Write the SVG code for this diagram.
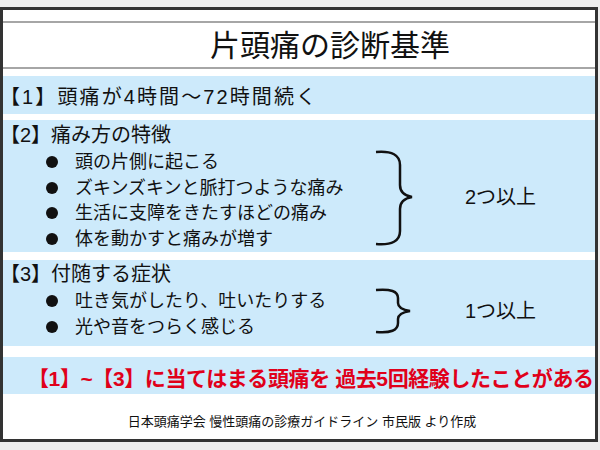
<svg xmlns="http://www.w3.org/2000/svg" width="600" height="450" viewBox="0 0 600 450">
<style>
text{font-family:"Liberation Sans","Noto Sans CJK JP",sans-serif;fill:#111}
.h{font-size:20px}
.b{font-size:18px}
.band{fill:#cdeafb}
.dot{fill:#111}
.brace{fill:none;stroke:#111;stroke-width:2.5}
</style>
<rect width="600" height="450" fill="#eeeeee"/>
<rect x="1.5" y="8.5" width="595" height="432" fill="#fff" stroke="#333" stroke-width="3"/>
<g id="title">
<line x1="3" y1="22" x2="595" y2="22" stroke="#888" stroke-width="1.5"/>
<line x1="3" y1="68" x2="595" y2="68" stroke="#888" stroke-width="1.5"/>
<text x="330" y="56" text-anchor="middle" font-size="30">片頭痛の診断基準</text>
</g>
<g id="s1">
<rect class="band" x="3" y="76" width="592" height="38"/>
<text class="h" x="0" y="104" textLength="316">【1】頭痛が4時間～72時間続く</text>
</g>
<g id="s2">
<rect class="band" x="3" y="120" width="592" height="132"/>
<text class="h" x="0" y="142">【2】痛み方の特徴</text>
<circle class="dot" cx="52" cy="162" r="6"/><text class="b" x="75" y="168">頭の片側に起こる</text>
<circle class="dot" cx="52" cy="188" r="6"/><text class="b" x="75" y="194">ズキンズキンと脈打つような痛み</text>
<circle class="dot" cx="52" cy="213" r="6"/><text class="b" x="75" y="219">生活に支障をきたすほどの痛み</text>
<circle class="dot" cx="52" cy="239" r="6"/><text class="b" x="75" y="245">体を動かすと痛みが増す</text>
<path class="brace" d="M376,152 Q400,150 400,165 L400,185 Q400,195 412,197 Q400,199 400,209 L400,231 Q400,246 376,244"/>
<text class="h" x="465" y="204">2つ以上</text>
</g>
<g id="s3">
<rect class="band" x="3" y="260" width="592" height="86"/>
<text class="h" x="0" y="281">【3】付随する症状</text>
<circle class="dot" cx="52" cy="301" r="6"/><text class="b" x="75" y="307">吐き気がしたり、吐いたりする</text>
<circle class="dot" cx="52" cy="327" r="6"/><text class="b" x="75" y="333">光や音をつらく感じる</text>
<path class="brace" d="M376,290 Q398,288 398,298 L398,303 Q398,309 410,311 Q398,313 398,319 L398,323 Q398,334 376,332"/>
<text class="h" x="465" y="318">1つ以上</text>
</g>
<g id="summary">
<rect class="band" x="3" y="357" width="592" height="37"/>
<text x="28" y="386" font-size="21" font-weight="bold" textLength="566" style="fill:#e0001a">【1】~【3】に当てはまる頭痛を 過去5回経験したことがある</text>
</g>
<text x="302" y="426" text-anchor="middle" font-size="13">日本頭痛学会 慢性頭痛の診療ガイドライン 市民版 より作成</text>
</svg>
